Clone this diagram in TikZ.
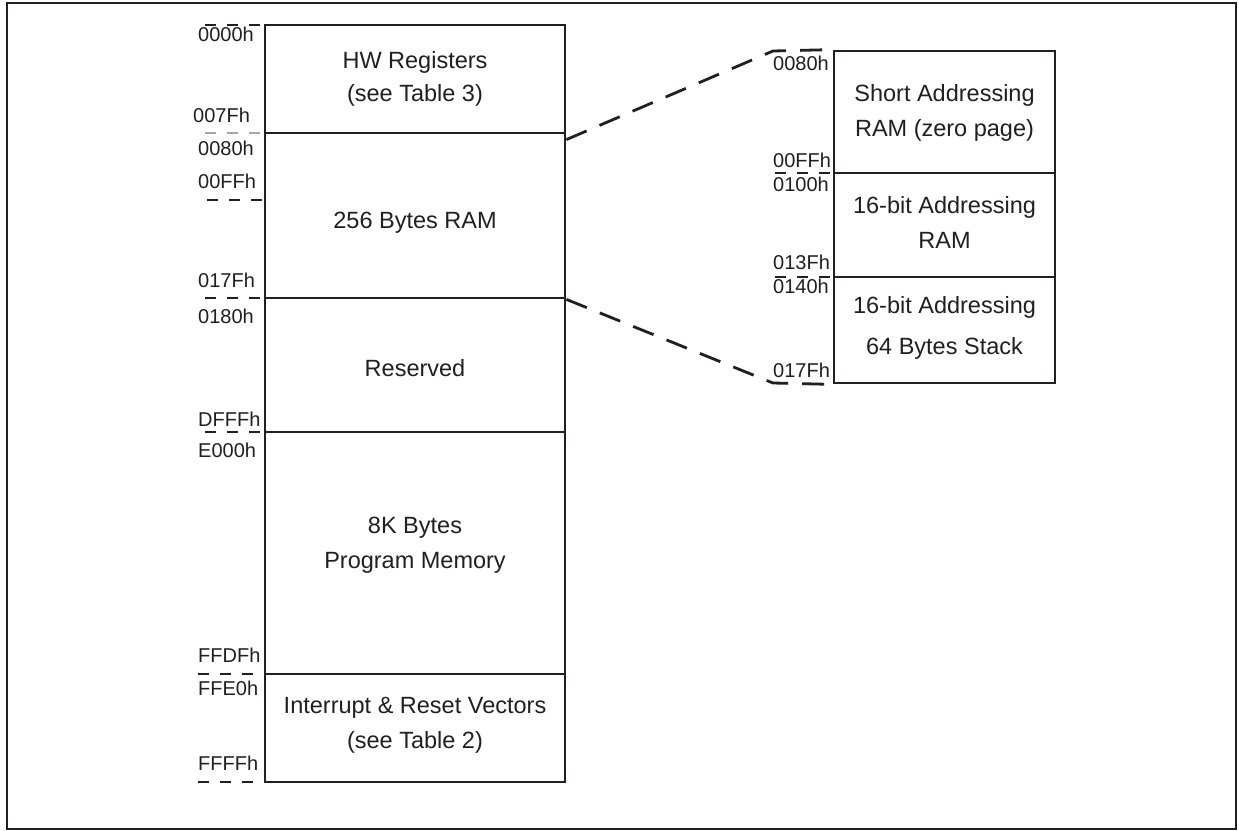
\documentclass[tikz,border=0pt]{standalone}
\usepackage{fontspec}
\setmainfont{Liberation Sans}
\usetikzlibrary{calc}
\definecolor{ink}{HTML}{231F20}
\begin{document}
\begin{tikzpicture}[x=1pt,y=-1pt,
  blk/.style={draw=ink,line width=2.8pt,minimum width=#1,inner sep=0pt},
  blktext/.style={text=ink,font=\fontsize{23.5}{35}\selectfont,align=center,inner sep=0pt},
  addr/.style={text=ink,font=\fontsize{20}{20}\selectfont,anchor=west,inner sep=0pt},
  tick/.style={draw=ink,line width=1.6pt,dash pattern=on 11pt off 11pt},
  conn/.style={draw=ink,line width=2.8pt,dash pattern=on 22pt off 14pt}]
\useasboundingbox (0,0) rectangle (1239,830);
\fill[white] (0,0) rectangle (1239,830);
\draw[ink,line width=2.6pt] (7,3) rectangle (1236,829);
% left memory map
\node[blk=300pt,minimum height=108pt] (hw) at (415,79) {};
\node[blk=300pt,minimum height=165pt] (ram) at (415,215.5) {};
\node[blk=300pt,minimum height=134pt] (res) at (415,365) {};
\node[blk=300pt,minimum height=242pt] (prog) at (415,553) {};
\node[blk=300pt,minimum height=108pt] (vec) at (415,728) {};
\node[blktext,font=\fontsize{23.5}{33}\selectfont] (hwt) at (415,78.5) {HW Registers\\ (see Table 3)};
\node[blktext] (ramt) at (415,223) {256 Bytes RAM};
\node[blktext] (rest) at (415,368) {Reserved};
\node[blktext] (progt) at (415,545) {8K Bytes\\Program Memory};
\node[blktext] (vect) at (415,725) {Interrupt \& Reset Vectors\\(see Table 2)};
% right zoom
\node[blk=221pt,minimum height=122pt] (sa) at (944.5,112) {};
\node[blk=221pt,minimum height=104pt] (r16) at (944.5,225) {};
\node[blk=221pt,minimum height=106pt] (st) at (944.5,330) {};
\node[blktext] (sat) at (944.5,112.5) {Short Addressing\\RAM (zero page)};
\node[blktext] (r16t) at (944.5,222.5) {16-bit Addressing\\RAM};
\node[blktext,font=\fontsize{23.5}{41}\selectfont] (stt) at (944.5,327.5) {16-bit Addressing\\64 Bytes Stack};
% left ticks
\draw[tick] (205,25) -- (262,25);
\draw[tick,draw=gray!70] (205,133) -- (262,133);
\draw[tick] (207,200) -- (265,200);
\draw[tick] (205,298) -- (262,298);
\draw[tick] (205,432) -- (262,432);
\draw[tick] (198,674) -- (262,674);
\draw[tick] (198,782) -- (262,782);
% right ticks
\draw[tick] (775,173) -- (834,173);
\draw[tick] (775,277) -- (834,277);
% left addresses
\node[addr] (a0) at (198,34) {0000h};
\node[addr] (a1) at (193,115) {007Fh};
\node[addr] (a2) at (198,148) {0080h};
\node[addr] (a3) at (198,181) {00FFh};
\node[addr] (a4) at (198,280) {017Fh};
\node[addr] (a5) at (198,316) {0180h};
\node[addr] (a6) at (198,419) {DFFFh};
\node[addr] (a7) at (198,450) {E000h};
\node[addr] (a8) at (198,655) {FFDFh};
\node[addr] (a9) at (198,688) {FFE0h};
\node[addr] (a10) at (198,763) {FFFFh};
% right addresses
\node[addr] (b0) at (773,63.5) {0080h};
\node[addr] (b1) at (773,160) {00FFh};
\node[addr] (b2) at (773,184) {0100h};
\node[addr] (b3) at (773,262) {013Fh};
\node[addr] (b4) at (773,286) {0140h};
\node[addr] (b5) at (773,370) {017Fh};
% connectors
\coordinate (ut) at (773,51);
\coordinate (lt) at (773,383);
\draw[conn] ([yshift=-8pt]ram.north east) -- (ut) -- (sa.north west);
\draw[conn] (ram.south east) -- (lt) -- (st.south west);
\end{tikzpicture}
\end{document}
